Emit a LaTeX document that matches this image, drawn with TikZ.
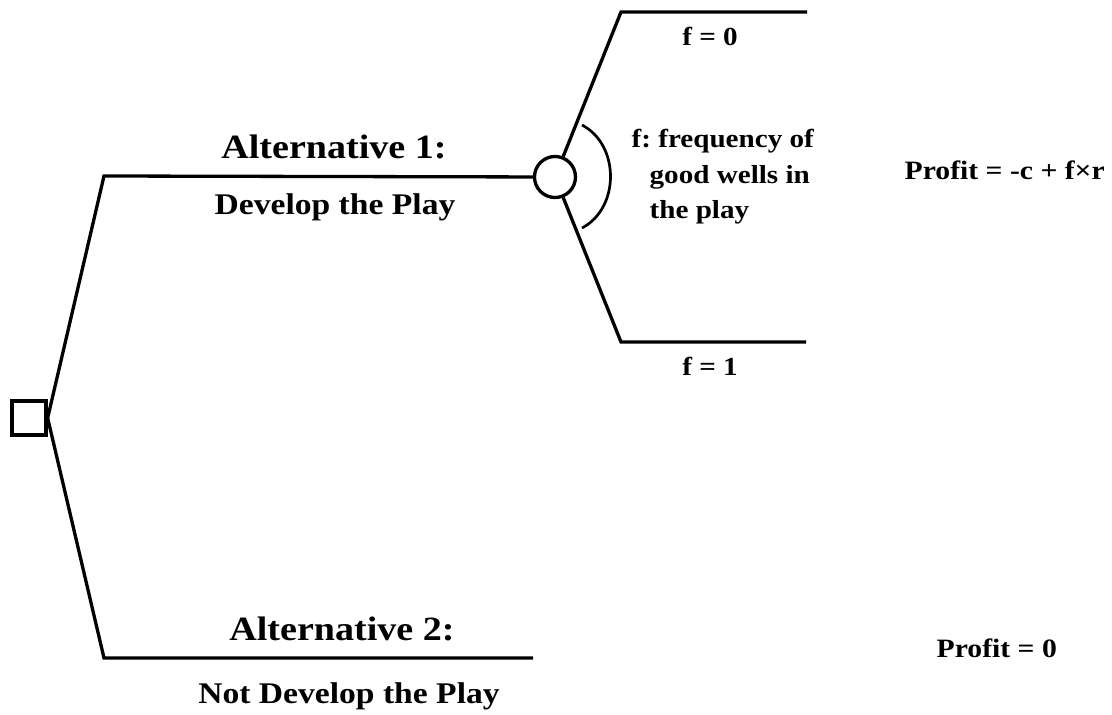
\documentclass[tikz,border=0pt]{standalone}
\usepackage{fontspec}
\setmainfont{Liberation Serif}[FakeStretch=1.12]
\usetikzlibrary{positioning}
\frenchspacing

\begin{document}
\begin{tikzpicture}[x=1pt,y=-1pt,line width=3.3pt,
    decision/.style={draw,rectangle,minimum size=34pt,inner sep=0pt},
    chance/.style={draw,circle,minimum size=41pt,inner sep=0pt},
    label/.style={inner sep=0pt,anchor=base},
    big/.style={label,font=\fontsize{34}{40}\selectfont\bfseries},
    mid/.style={label,font=\fontsize{30}{36}\selectfont\bfseries},
    small/.style={label,font=\fontsize{26}{32}\selectfont\bfseries},
    profit/.style={label,anchor=base west,font=\fontsize{26.5}{32}\selectfont\bfseries}]
  \useasboundingbox (0,0) rectangle (1112,715);

  % decision and chance nodes
  \node[decision] (dec) at (29,418) {};
  \node[chance] (chc) at (555,177) {};

  % branch corners and ends
  \coordinate (a1) at (104,176);
  \coordinate (a2) at (104,658);
  \coordinate (e2) at (533,658);
  \coordinate (c0) at (621,12);
  \coordinate (e0) at (807,12);
  \coordinate (c1) at (621,342);
  \coordinate (e1) at (806,342);

  \draw (dec.east) -- (a1) -- (chc);
  \draw (dec.east) -- (a2) -- (e2);
  \draw (chc) -- (c0) -- (e0);
  \draw (chc) -- (c1) -- (e1);

  % bracket over the outcomes
  \draw[line width=2.7pt] (582,125) .. controls (620,145) and (620,208) .. (582,228);

  \node[big] (alt1) at (334,158) {Alternative 1:};
  \node[mid] (dev1) at (335,214) {Develop the Play};
  \node[big] (alt2) at (342,640) {Alternative 2:};
  \node[mid] (dev2) at (349,703) {Not Develop the Play};

  \node[small] (f0) at (710,45) {f = 0};
  \node[small] (f1) at (710,375) {f = 1};
  \node[small,anchor=base west] (fdef1) at (630,147) {f: frequency of};
  \node[small,anchor=base west] (fdef2) at (648,183) {good wells in};
  \node[small,anchor=base west] (fdef3) at (648,218) {the play};

  \node[profit] (p1) at (903,179) {Profit = -c + f×r};
  \node[profit] (p0) at (935,657) {Profit = 0};
\end{tikzpicture}
\end{document}
